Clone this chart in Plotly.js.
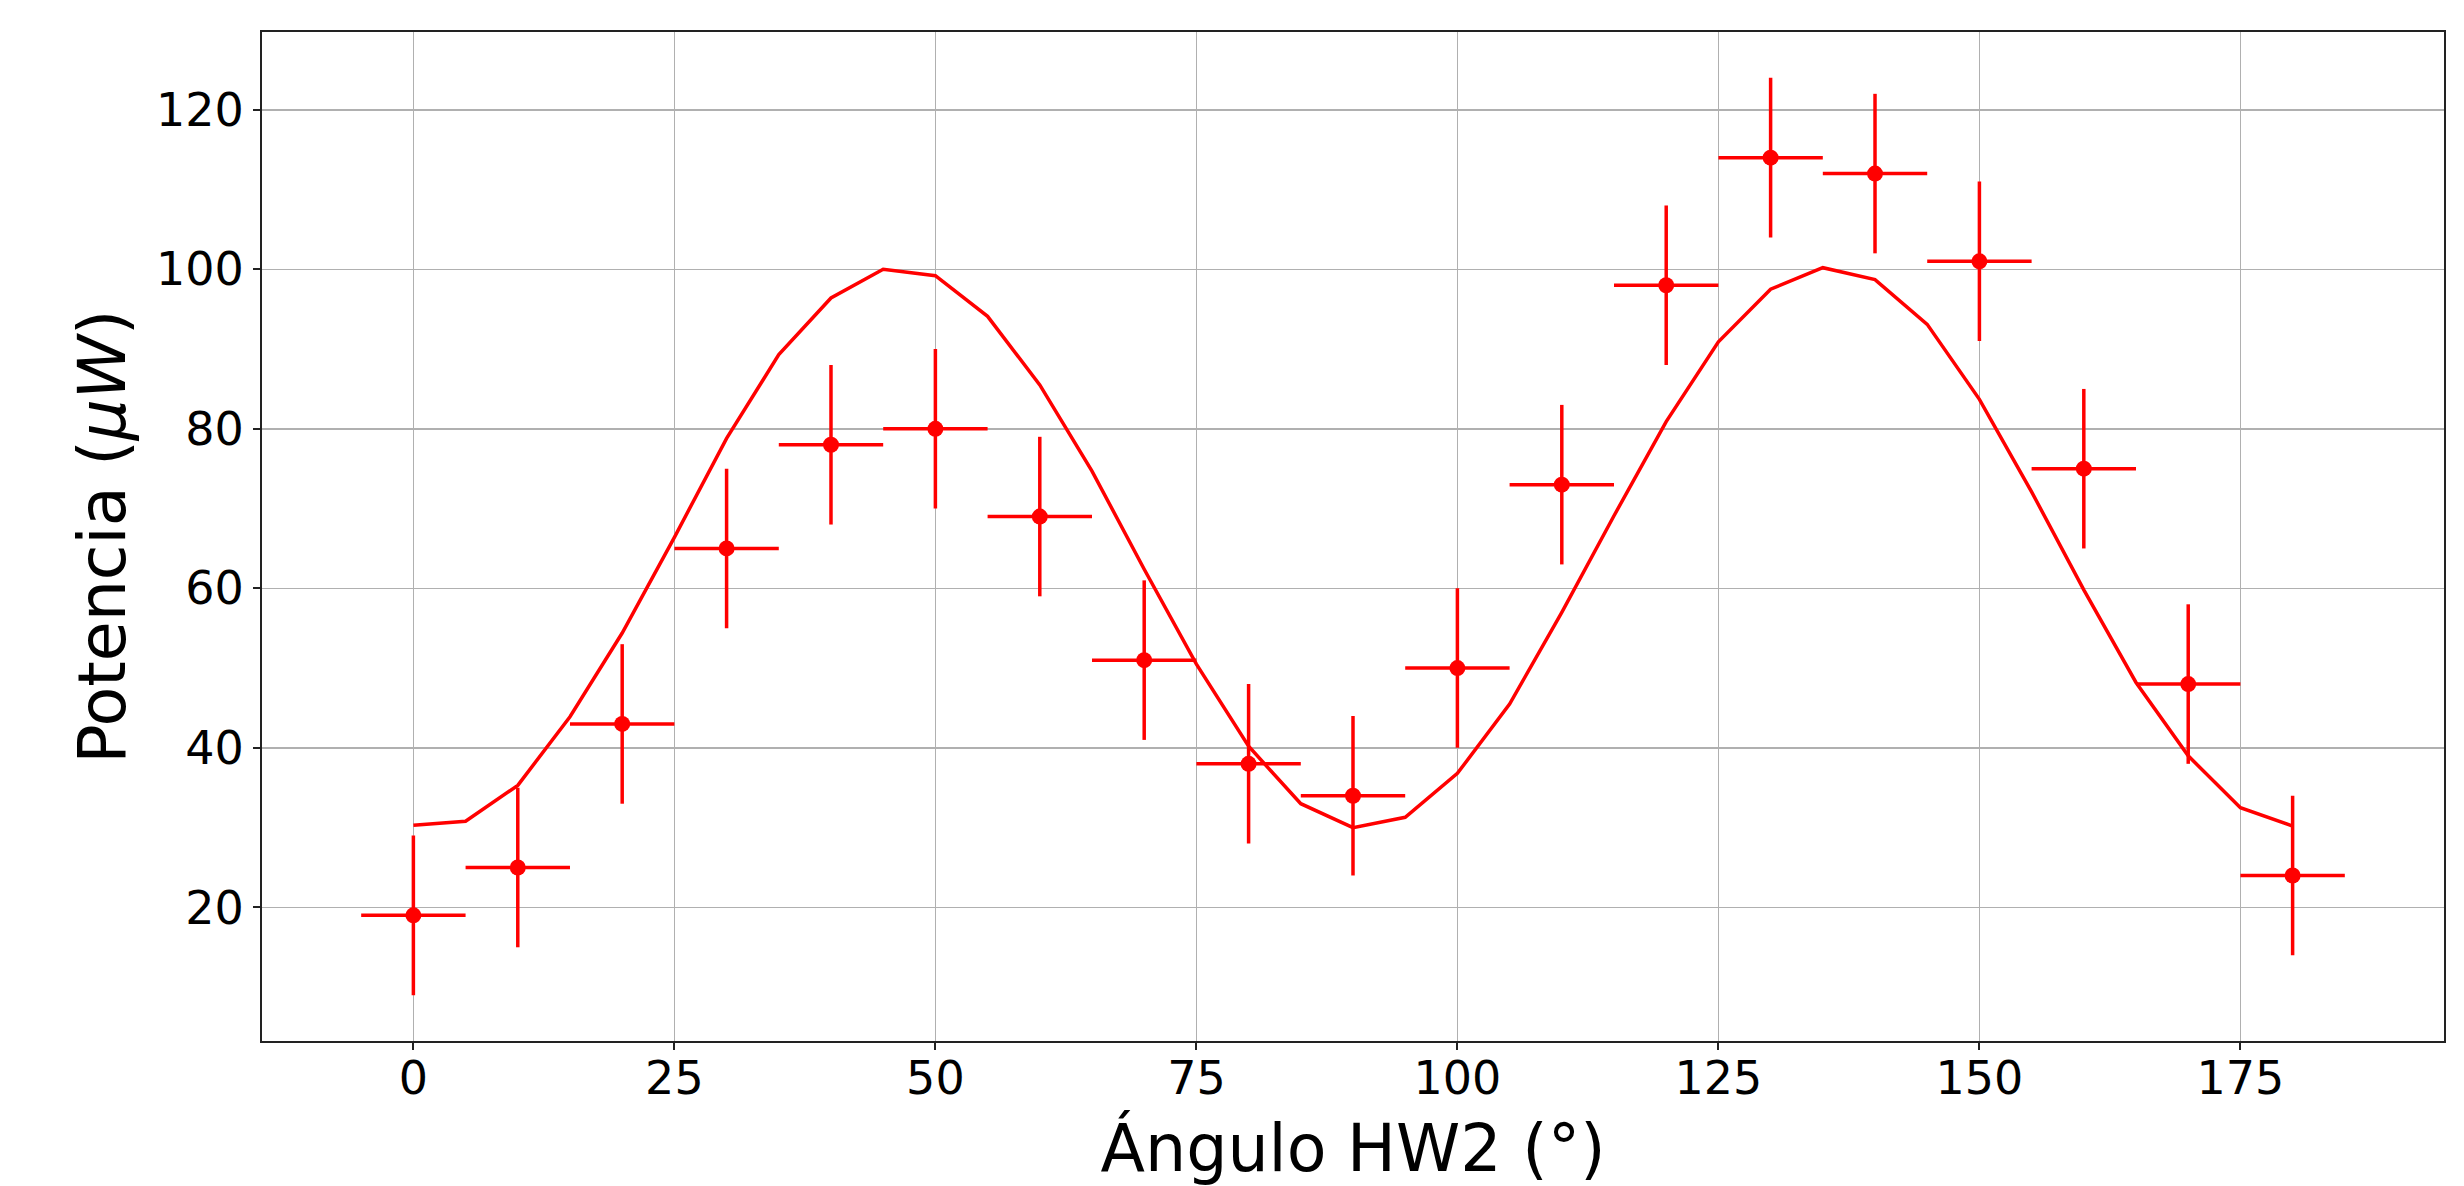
<!DOCTYPE html>
<html>
<head>
<meta charset="utf-8">
<script src="https://cdn.plot.ly/plotly-3.0.1.min.js"></script>
<style>html,body{margin:0;padding:0;background:#fff;}#chart{width:2464px;height:1186px;}</style>
</head>
<body>
<div id="chart"></div>
<script>
// Measured data points (angle in degrees, power in µW)
const angles = [0, 10, 20, 30, 40, 50, 60, 70, 80, 90, 100, 110, 120, 130, 140, 150, 160, 170, 180];
const power = [19, 25, 43, 65, 78, 80, 69, 51, 38, 34, 50, 73, 98, 114, 112, 101, 75, 48, 24];
const angleErr = [5, 5, 5, 5, 5, 5, 5, 5, 5, 5, 5, 5, 5, 5, 5, 5, 5, 5, 5];
const powerErr = [10, 10, 10, 10, 10, 10, 10, 10, 10, 10, 10, 10, 10, 10, 10, 10, 10, 10, 10];

// Model curve
const fitAngles = [0, 5, 10, 15, 20, 25, 30, 35, 40, 45, 50, 55, 60, 65, 70, 75, 80, 85, 90,
                   95, 100, 105, 110, 115, 120, 125, 130, 135, 140, 145, 150, 155, 160, 165, 170, 175, 180];
const fitPower = [30.3, 30.8, 35.3, 43.9, 54.4, 66.4, 78.8, 89.3, 96.4, 100.0, 99.2, 94.1, 85.5, 74.7, 62.4, 50.5, 40.2, 33.0, 30.0,
                  31.3, 36.8, 45.5, 57.0, 69.1, 80.9, 90.9, 97.5, 100.2, 98.7, 93.1, 83.7, 72.1, 59.8, 48.2, 39.0, 32.5, 30.2];

const xTicks = [0, 25, 50, 75, 100, 125, 150, 175];
const yTicks = [20, 40, 60, 80, 100, 120];

const RED = '#ff0000';
const FONT = 'DejaVu Sans, sans-serif';

const traces = [
  {
    x: fitAngles, y: fitPower, type: 'scatter', mode: 'lines',
    line: {color: RED, width: 3.5}, hoverinfo: 'skip', showlegend: false
  },
  {
    x: angles, y: power, type: 'scatter', mode: 'markers',
    marker: {color: RED, size: 16, line: {width: 0}},
    error_x: {type: 'data', array: angleErr, visible: true, color: RED, thickness: 3.5, width: 0},
    error_y: {type: 'data', array: powerErr, visible: true, color: RED, thickness: 3.5, width: 0},
    showlegend: false
  }
];

const layout = {
  width: 2464, height: 1186,
  margin: {l: 262, r: 20, t: 32, b: 145, pad: 0},
  paper_bgcolor: '#ffffff', plot_bgcolor: '#ffffff',
  font: {family: FONT, color: '#000000', size: 45},
  showlegend: false,
  xaxis: {
    range: [-14.5, 194.5], tickvals: xTicks, ticktext: xTicks.map(String),
    showgrid: true, gridcolor: '#b0b0b0', gridwidth: 1.5,
    zeroline: false, showline: true, mirror: true, linecolor: '#222222', linewidth: 2,
    ticks: 'outside', ticklen: 7, tickwidth: 2, tickcolor: '#222222',
    ticklabelstandoff: -11,
    tickfont: {family: FONT, size: 46, color: '#000000'},
    title: {text: 'Ángulo HW2 (°)', font: {family: FONT, size: 65, color: '#000000'}, standoff: 31}
  },
  yaxis: {
    range: [3.25, 129.75], tickvals: yTicks, ticktext: yTicks.map(String),
    showgrid: true, gridcolor: '#b0b0b0', gridwidth: 1.5,
    zeroline: false, showline: true, mirror: true, linecolor: '#222222', linewidth: 2,
    ticks: 'outside', ticklen: 7, tickwidth: 2, tickcolor: '#222222',
    tickfont: {family: FONT, size: 46, color: '#000000'},
    title: {text: 'Potencia (<i>μW</i>)', font: {family: FONT, size: 65, color: '#000000'}, standoff: 9}
  }
};

Plotly.newPlot('chart', traces, layout, {displayModeBar: false, staticPlot: true});
</script>
</body>
</html>
